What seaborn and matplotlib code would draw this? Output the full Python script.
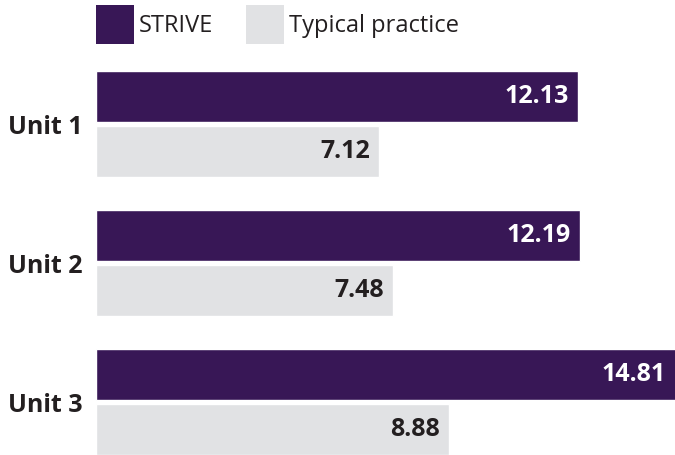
import matplotlib
matplotlib.use("Agg")
import matplotlib.pyplot as plt
import seaborn as sns
import pandas as pd

# Data
units = ["Unit 1", "Unit 2", "Unit 3"]
strive = [12.13, 12.19, 14.81]
typical = [7.12, 7.48, 8.88]
groups = ["STRIVE", "Typical practice"]

PURPLE = "#381756"
GRAY = "#e1e2e4"
DARK = "#231f20"

df = pd.DataFrame({
    "unit": units * 2,
    "score": strive + typical,
    "group": [groups[0]] * len(units) + [groups[1]] * len(units),
})

sns.set_theme(style="white")
plt.rcParams["font.family"] = ["Open Sans", "DejaVu Sans"]

fig = plt.figure(figsize=(6.75, 4.55), dpi=100)
ax = fig.add_axes([96 / 675, 0, 579 / 675, 1])

sns.barplot(data=df, y="unit", x="score", hue="group", orient="h",
            palette=[PURPLE, GRAY], width=0.791, gap=0.073,
            saturation=1, ax=ax, legend=True)

ax.set_xlim(0, 14.58)
ax.set_ylim(2.381, -0.892)
ax.set_xlabel("")
ax.set_ylabel("")
ax.set_xticks([])
sns.despine(ax=ax, left=True, bottom=True)
ax.tick_params(axis="y", length=0, pad=9.5)
for lbl in ax.get_yticklabels():
    lbl.set_fontsize(18)
    lbl.set_fontweight("bold")
    lbl.set_color(DARK)

# value labels inside the bar ends
xmax = ax.get_xlim()[1]
for cont, col in zip(ax.containers, ["white", DARK]):
    for bar, val in zip(cont, cont.datavalues):
        end = min(bar.get_x() + bar.get_width(), xmax)
        yc = bar.get_y() + bar.get_height() / 2
        ax.annotate(f"{val:.2f}", xy=(end, yc), xytext=(-9, 0),
                    textcoords="offset pixels", ha="right", va="center",
                    fontsize=18, fontweight="bold", color=col)

leg = ax.legend(loc="upper left", bbox_to_anchor=(96 / 675, 1 - 5 / 455),
                bbox_transform=fig.transFigure, ncol=2, frameon=False,
                fontsize=17, handlelength=1.61, handleheight=2.17,
                handletextpad=0.2, columnspacing=1.4, borderpad=0,
                borderaxespad=0)
for t in leg.get_texts():
    t.set_color(DARK)
for h in leg.legend_handles:
    h.set_linewidth(0)

fig.savefig("out.png", dpi=100)
